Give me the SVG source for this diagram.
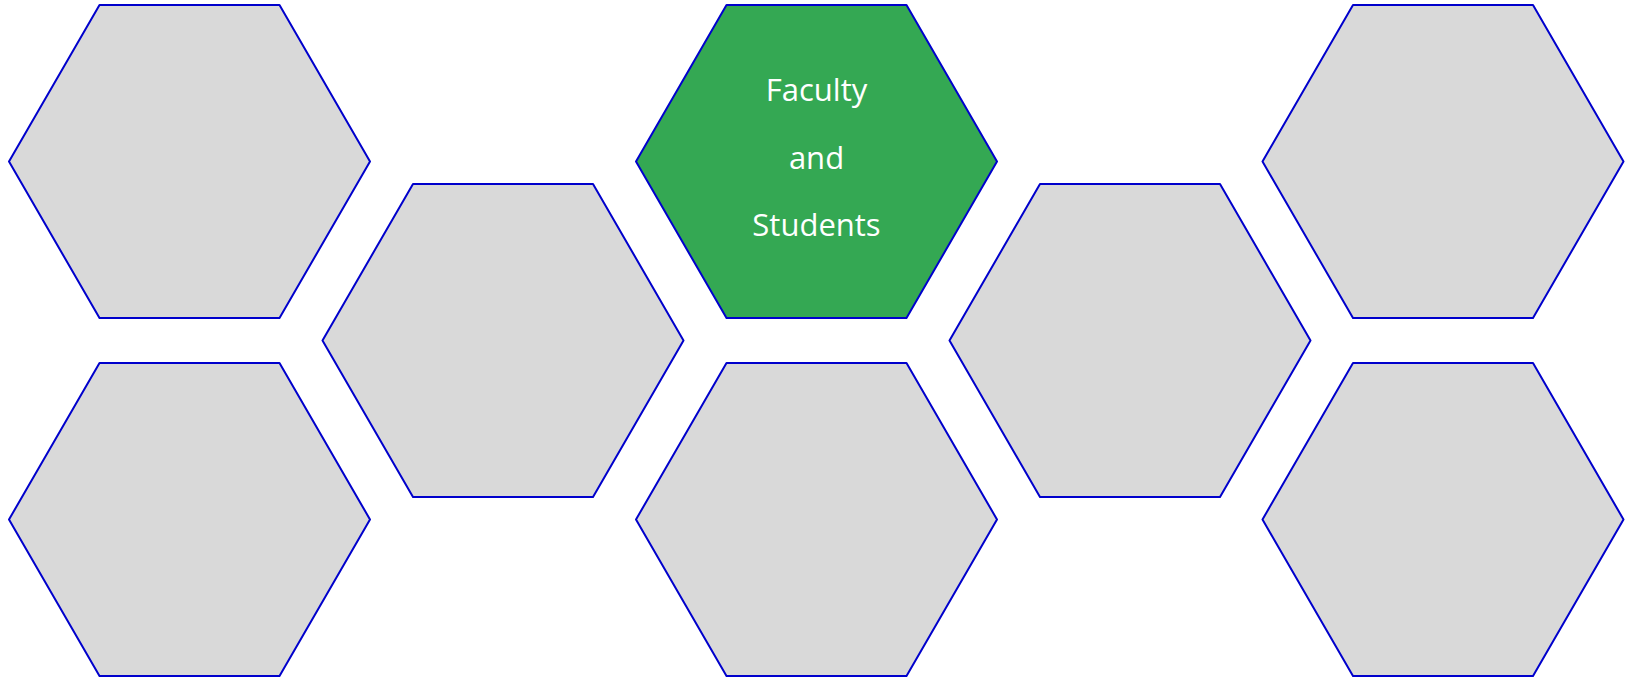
<svg xmlns="http://www.w3.org/2000/svg" width="1631" height="678" viewBox="0 0 1631 678">
<defs>
<style>
.hex{fill:#D9D9D9;stroke:#0000CC;stroke-width:2;stroke-linejoin:round}
.hl{fill:#34A853}
.lbl{fill:#FFFFFF;font-family:"Open Sans","Liberation Sans",sans-serif;font-size:31px;text-anchor:middle}
</style>
</defs>
<g id="hex-top-1"><polygon class="hex" points="99.5,5 279.5,5 370,161.5 279.5,318 99.5,318 9,161.5"/></g>
<g id="hex-bottom-1"><polygon class="hex" points="99.5,363 279.5,363 370,519.5 279.5,676 99.5,676 9,519.5"/></g>
<g id="hex-middle-2"><polygon class="hex" points="413,184 593,184 683.5,340.5 593,497 413,497 322.5,340.5"/></g>
<g id="hex-top-3"><polygon class="hex hl" points="726.5,5 906.5,5 997,161.5 906.5,318 726.5,318 636,161.5"/>
<text class="lbl" x="816.5" y="101">Faculty</text>
<text class="lbl" x="816.5" y="168.5">and</text>
<text class="lbl" x="816.5" y="236">Students</text></g>
<g id="hex-bottom-3"><polygon class="hex" points="726.5,363 906.5,363 997,519.5 906.5,676 726.5,676 636,519.5"/></g>
<g id="hex-middle-4"><polygon class="hex" points="1040,184 1220,184 1310.5,340.5 1220,497 1040,497 949.5,340.5"/></g>
<g id="hex-top-5"><polygon class="hex" points="1353,5 1533,5 1623.5,161.5 1533,318 1353,318 1262.5,161.5"/></g>
<g id="hex-bottom-5"><polygon class="hex" points="1353,363 1533,363 1623.5,519.5 1533,676 1353,676 1262.5,519.5"/></g>
<g id="connectors"></g>
</svg>
